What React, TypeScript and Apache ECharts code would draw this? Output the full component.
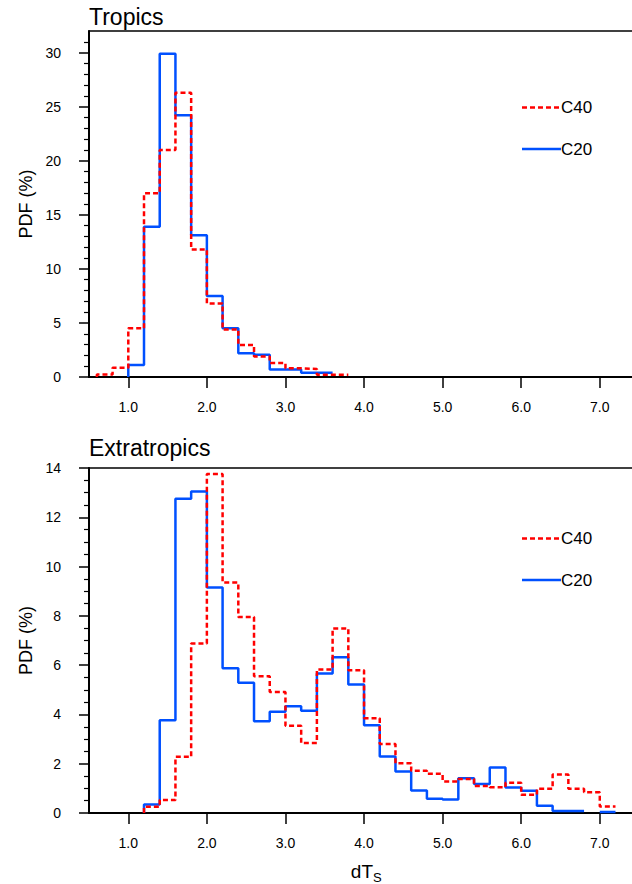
import React, { useEffect, useRef } from "react";
import * as echarts from "echarts";

// ---- data (PDF in %, histogram bins of width 0.2 in dTs) ----
const BIN = 0.2;
const xTickValues = [1, 2, 3, 4, 5, 6, 7];
const tropicsYTicks = [0, 5, 10, 15, 20, 25, 30];
const extraYTicks = [0, 2, 4, 6, 8, 10, 12, 14];

// Tropics
const tropicsC40Start = 0.6;
const tropicsC40 = [0.22, 0.86, 4.5, 17.0, 21.0, 26.3, 11.8, 6.8, 4.4, 2.95, 1.9, 1.3, 0.8, 0.75, 0.2, 0.2];
const tropicsC20Start = 1.0;
const tropicsC20 = [1.1, 13.9, 29.9, 24.2, 13.1, 7.5, 4.5, 2.2, 2.05, 0.7, 0.7, 0.4, 0.4];

// Extratropics
const extraC40Start = 1.2;
const extraC40 = [0.25, 0.53, 2.28, 6.88, 13.76, 9.35, 7.95, 5.55, 4.91, 3.54, 2.84, 5.82, 7.49, 5.79, 3.85, 2.8, 2.02, 1.71, 1.59, 1.28, 1.38, 1.1, 1.05, 1.23, 0.74, 0.98, 1.56, 0.98, 0.84, 0.26];
const extraC20Start = 1.2;
const extraC20: (number | null)[] = [0.35, 3.76, 12.75, 13.05, 9.15, 5.87, 5.29, 3.72, 4.11, 4.33, 4.15, 5.66, 6.32, 5.21, 3.56, 2.29, 1.68, 0.91, 0.58, 0.55, 1.41, 1.18, 1.85, 1.03, 0.9, 0.29, 0.08, 0.08, null, 0.04];

const X_MIN = 0.5;
const X_MAX = 7.41;

const FONT = "'Liberation Sans', Arial, Helvetica, sans-serif";
const RED = "#ff0000";
const BLUE = "#0050ff";

function r2(v: number) {
  return Math.round(v * 100) / 100;
}

function stepPoints(start: number, values: (number | null)[]) {
  const pts: (number | null)[][] = [[start, 0]];
  values.forEach((v, i) => {
    const x0 = r2(start + i * BIN);
    if (v == null) {
      pts.push([x0, null]);
      return;
    }
    pts.push([x0, v], [r2(x0 + BIN), v]);
  });
  return pts;
}

function xAxisCfg(gridIndex: number) {
  return {
    type: "value",
    gridIndex,
    position: "bottom",
    min: X_MIN,
    max: X_MAX,
    axisLine: { show: true, onZero: false, lineStyle: { color: "#000", width: 2 } },
    axisTick: {
      show: true,
      inside: false,
      length: 11,
      customValues: xTickValues,
      lineStyle: { color: "#000", width: 1.5 },
    },
    axisLabel: {
      customValues: xTickValues,
      formatter: (v: number) => v.toFixed(1),
      fontSize: 14,
      margin: 23,
      color: "#000",
      fontFamily: FONT,
    },
    splitLine: { show: false },
  };
}

function topAxisCfg(gridIndex: number) {
  return {
    type: "value",
    gridIndex,
    position: "top",
    min: X_MIN,
    max: X_MAX,
    axisLine: { show: true, onZero: false, lineStyle: { color: "#000", width: 1.5 } },
    axisTick: { show: false },
    axisLabel: { show: false },
    splitLine: { show: false },
  };
}

function yAxisCfg(gridIndex: number, max: number, interval: number, ticks: number[], minorSplit: number) {
  return {
    type: "value",
    gridIndex,
    min: 0,
    max,
    interval,
    name: "PDF (%)",
    nameLocation: "middle",
    nameGap: 53,
    nameRotate: 90,
    nameTextStyle: { fontSize: 18, color: "#000", fontFamily: FONT },
    axisLine: { show: true, onZero: false, lineStyle: { color: "#000", width: 2 } },
    axisTick: {
      show: true,
      inside: false,
      length: 10,
      customValues: ticks,
      lineStyle: { color: "#000", width: 1.5 },
    },
    minorTick: {
      show: true,
      splitNumber: minorSplit,
      length: 5,
      lineStyle: { color: "#000", width: 1.2 },
    },
    axisLabel: {
      customValues: ticks,
      showMaxLabel: true,
      showMinLabel: true,
      fontSize: 14,
      margin: 28,
      color: "#000",
      fontFamily: FONT,
    },
    splitLine: { show: false },
    minorSplitLine: { show: false },
  };
}

function legendGraphics(yC40: number, yC20: number) {
  return [
    {
      type: "line",
      shape: { x1: 522, y1: yC40, x2: 561, y2: yC40 },
      style: { stroke: RED, lineWidth: 2.5, lineDash: [5, 3] },
    },
    {
      type: "text",
      x: 561,
      y: yC40,
      style: { text: "C40", fontSize: 17, fontFamily: FONT, fill: "#000", textAlign: "left", textVerticalAlign: "middle" },
    },
    {
      type: "line",
      shape: { x1: 522, y1: yC20, x2: 561, y2: yC20 },
      style: { stroke: BLUE, lineWidth: 2.5 },
    },
    {
      type: "text",
      x: 561,
      y: yC20,
      style: { text: "C20", fontSize: 17, fontFamily: FONT, fill: "#000", textAlign: "left", textVerticalAlign: "middle" },
    },
  ];
}

export default function App() {
  const ref = useRef<HTMLDivElement>(null);

  useEffect(() => {
    if (!ref.current) return;
    const chart = echarts.init(ref.current, null, { renderer: "svg" });

    const lineSeries = (name: string, xi: number, data: any, color: string, dashed: boolean) => ({
      type: "line",
      name,
      xAxisIndex: xi,
      yAxisIndex: xi,
      data,
      symbol: "none",
      showSymbol: false,
      connectNulls: false,
      clip: true,
      lineStyle: { color, width: 2.5, type: dashed ? [5, 3] : "solid" },
      itemStyle: { color },
      emphasis: { disabled: true },
    });

    chart.setOption({
      animation: false,
      textStyle: { fontFamily: FONT },
      grid: [
        { left: 89, top: 31, right: 0, height: 346 },
        { left: 89, top: 468, right: 0, height: 345 },
      ],
      xAxis: [xAxisCfg(0), xAxisCfg(1), topAxisCfg(0), topAxisCfg(1)],
      yAxis: [
        yAxisCfg(0, 32, 5, tropicsYTicks, 5),
        yAxisCfg(1, 14, 2, extraYTicks, 4),
      ],
      series: [
        lineSeries("C20", 0, stepPoints(tropicsC20Start, tropicsC20), BLUE, false),
        lineSeries("C40", 0, stepPoints(tropicsC40Start, tropicsC40), RED, true),
        lineSeries("C20", 1, stepPoints(extraC20Start, extraC20), BLUE, false),
        lineSeries("C40", 1, stepPoints(extraC40Start, extraC40), RED, true),
      ],
      graphic: [
        {
          type: "text",
          x: 89,
          y: 17,
          style: { text: "Tropics", fontSize: 23, fontFamily: FONT, fill: "#000", textAlign: "left", textVerticalAlign: "middle" },
        },
        {
          type: "text",
          x: 89,
          y: 448,
          style: { text: "Extratropics", fontSize: 23, fontFamily: FONT, fill: "#000", textAlign: "left", textVerticalAlign: "middle" },
        },
        ...legendGraphics(107.5, 149),
        ...legendGraphics(538.5, 580),
        {
          type: "text",
          x: 373,
          y: 871,
          style: { text: "dT", fontSize: 19, fontFamily: FONT, fill: "#000", textAlign: "right", textVerticalAlign: "middle" },
        },
        {
          type: "text",
          x: 373,
          y: 877,
          style: { text: "S", fontSize: 13, fontFamily: FONT, fill: "#000", textAlign: "left", textVerticalAlign: "middle" },
        },
      ],
    });

    return () => {
      chart.dispose();
    };
  }, []);

  return (
    <div
      ref={ref}
      style={{ position: "absolute", left: 0, top: 0, width: 632, height: 884, background: "#fff" }}
    />
  );
}
